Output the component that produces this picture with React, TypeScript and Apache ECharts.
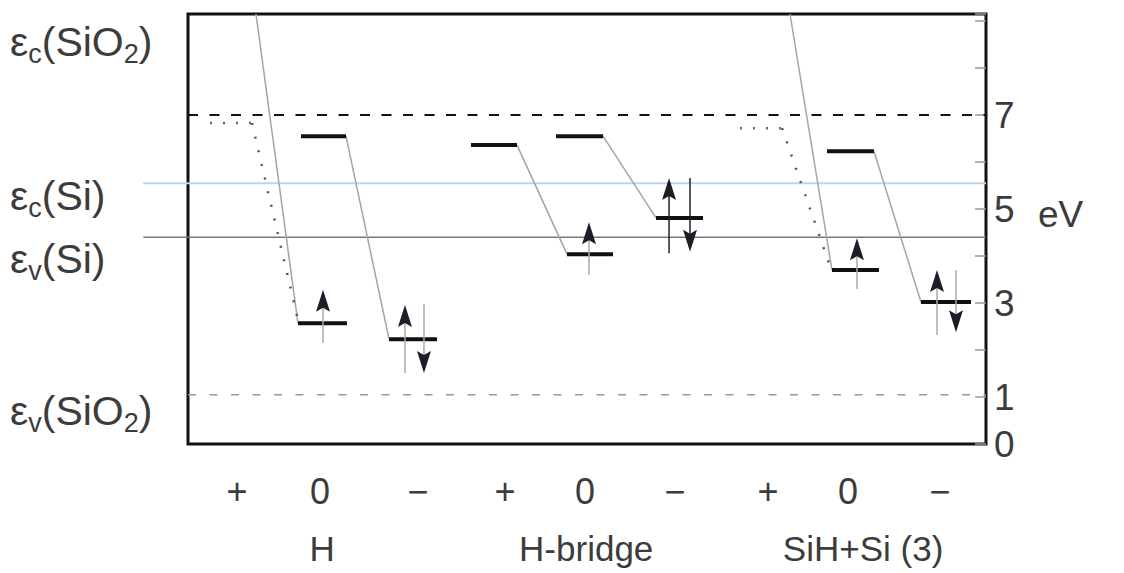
import React, { useEffect, useRef } from "react";
import * as echarts from "echarts";

// ---- data ----
const chargeLabels = ["+", "0", "\u2212", "+", "0", "\u2212", "+", "0", "\u2212"];
const chargePos = [6.14, 16.54, 28.82, 39.72, 49.75, 61.03, 72.68, 82.71, 94.24];
const groupLabels = ["H", "H-bridge", "SiH+Si (3)"];
const groupPos = [16.8, 49.9, 84.6];
const yTickLabels = [0, 1, 3, 5, 7];
const yMax = 9.15;

// defect levels: [xStart, xEnd, energy (eV)]
const levels = [
  [14.16, 19.8, 6.55],
  [35.46, 41.23, 6.36],
  [46.12, 52.01, 6.55],
  [80.08, 85.96, 6.23],
  [13.78, 19.92, 2.57],
  [25.19, 31.2, 2.23],
  [47.49, 53.26, 4.04],
  [58.65, 64.54, 4.81],
  [80.7, 86.59, 3.7],
  [91.85, 98.12, 3.02],
];
const dottedLevels = [
  [2.76, 8.02, 6.83],
  [69.17, 74.44, 6.72],
];
// relaxation connectors: [x1, e1, x2, e2]
const connectors = [
  [8.52, 9.15, 13.78, 2.57],
  [19.8, 6.55, 25.19, 2.23],
  [41.23, 6.36, 47.49, 4.04],
  [52.01, 6.55, 58.65, 4.81],
  [75.44, 9.15, 80.7, 3.7],
  [85.96, 6.23, 91.85, 3.02],
];
const dottedConnectors = [
  [8.02, 6.83, 13.78, 2.64],
  [74.44, 6.72, 80.58, 3.72],
];
// electron spins: [x, tail, tip]
const arrowsLight = [
  [16.92, 2.15, 3.28],
  [27.19, 1.51, 2.96],
  [29.57, 2.98, 1.51],
  [50.25, 3.6, 4.72],
  [83.83, 3.3, 4.38],
  [93.86, 2.32, 3.7],
  [96.24, 3.7, 2.38],
];
const arrowsDark = [
  [60.28, 4.06, 5.66],
  [62.91, 5.66, 4.09],
];
// band edges
const ecSiO2 = [[0, 100, 7.0]];
const ecSi = [[-5.6, 100, 5.55]];
const evSi = [[-5.6, 100, 4.4]];
const evSiO2 = [[0, 100, 1.05]];
const leftLabels = [
  "{n|\u03b5}{s|c}{n|(SiO}{s|2}{n|)}",
  "{n|\u03b5}{s|c}{n|(Si)}",
  "{n|\u03b5}{s|v}{n|(Si)}",
  "{n|\u03b5}{s|v}{n|(SiO}{s|2}{n|)}",
];
const leftLabelY = [42, 196, 259, 411];

const FONT = "Liberation Sans, Arial, sans-serif";
const TXT = "#3c3c3c";

function segSeries(data: number[][], style: any, z = 3) {
  return {
    type: "custom",
    z,
    clip: false,
    silent: true,
    data,
    renderItem: (_p: any, api: any) => {
      const a = api.coord([api.value(0), api.value(2)]);
      const b = api.coord([api.value(1), api.value(2)]);
      return { type: "line", shape: { x1: a[0], y1: a[1], x2: b[0], y2: b[1] }, style };
    },
  };
}

function connSeries(data: number[][], style: any, z = 2) {
  return {
    type: "custom",
    z,
    clip: false,
    silent: true,
    data,
    renderItem: (_p: any, api: any) => {
      const a = api.coord([api.value(0), api.value(1)]);
      const b = api.coord([api.value(2), api.value(3)]);
      return { type: "line", shape: { x1: a[0], y1: a[1], x2: b[0], y2: b[1] }, style };
    },
  };
}

function arrowSeries(data: number[][], lineColor: string) {
  return {
    type: "custom",
    z: 5,
    clip: false,
    silent: true,
    data,
    renderItem: (_p: any, api: any) => {
      const x = api.value(0);
      const tail = api.coord([x, api.value(1)]);
      const tip = api.coord([x, api.value(2)]);
      const dir = tip[1] < tail[1] ? 1 : -1;
      const L = 22;
      const W = 7;
      const hx = tip[0];
      const hy = tip[1];
      return {
        type: "group",
        children: [
          {
            type: "line",
            shape: { x1: tail[0], y1: tail[1], x2: hx, y2: hy + dir * (L - 4) },
            style: { stroke: lineColor, lineWidth: 1.5 },
          },
          {
            type: "polygon",
            shape: {
              points: [
                [hx, hy],
                [hx - W, hy + dir * L],
                [hx, hy + dir * (L - 4)],
                [hx + W, hy + dir * L],
              ],
            },
            style: { fill: "#1d1d2a" },
          },
        ],
      };
    },
  };
}

export default function App() {
  const ref = useRef<HTMLDivElement>(null);
  useEffect(() => {
    const chart = echarts.init(ref.current!, null, { renderer: "svg" });
    const nearest = (arr: number[], v: number) => {
      let bi = 0;
      arr.forEach((a, i) => {
        if (Math.abs(a - v) < Math.abs(arr[bi] - v)) bi = i;
      });
      return bi;
    };
    chart.setOption({
      animation: false,
      backgroundColor: "#fff",
      grid: {
        left: 188,
        right: 138,
        top: 14,
        bottom: 129,
        show: true,
        borderColor: "#111",
        borderWidth: 3,
        backgroundColor: "transparent",
      },
      xAxis: [
        {
          type: "value",
          min: 0,
          max: 100,
          position: "bottom",
          axisLine: { show: false, onZero: false },
          axisTick: { show: false },
          splitLine: { show: false },
          axisLabel: {
            customValues: chargePos,
            margin: 28,
            fontSize: 36,
            lineHeight: 38,
            color: TXT,
            fontFamily: FONT,
            formatter: (v: number) => chargeLabels[nearest(chargePos, v)],
          },
        },
        {
          type: "value",
          min: 0,
          max: 100,
          position: "bottom",
          axisLine: { show: false, onZero: false },
          axisTick: { show: false },
          splitLine: { show: false },
          axisLabel: {
            customValues: groupPos,
            margin: 85,
            fontSize: 35,
            lineHeight: 38,
            color: TXT,
            fontFamily: FONT,
            formatter: (v: number) => groupLabels[nearest(groupPos, v)],
          },
        },
      ],
      yAxis: {
        type: "value",
        position: "right",
        min: 0,
        max: yMax,
        interval: 1,
        axisLine: { show: false, onZero: false },
        splitLine: { show: false },
        axisTick: { show: true, inside: false, length: -11, lineStyle: { color: "#999", width: 1.5 } },
        axisLabel: {
          customValues: yTickLabels,
          margin: 8,
          fontSize: 37,
          color: TXT,
          fontFamily: FONT,
        },
      },
      graphic: [
        ...leftLabels.map((t, i) => ({
          type: "text",
          x: 10,
          y: leftLabelY[i],
          silent: true,
          style: {
            text: t,
            verticalAlign: "middle",
            align: "left",
            rich: {
              n: { fontSize: 41, lineHeight: 50, fontFamily: FONT, fill: TXT },
              s: { fontSize: 27, lineHeight: 27, fontFamily: FONT, fill: TXT, verticalAlign: "bottom" },
            },
          },
        })),
        {
          type: "text",
          x: 1038,
          y: 214,
          silent: true,
          style: { text: "eV", fontSize: 37, fontFamily: FONT, fill: TXT, verticalAlign: "middle" },
        },
      ],
      series: [
        segSeries(ecSi, { stroke: "#bcd3ea", lineWidth: 2 }, 1),
        segSeries(evSi, { stroke: "#777", lineWidth: 1.5 }, 1),
        segSeries(ecSiO2, { stroke: "#111", lineWidth: 2, lineDash: [10, 11.5] }, 1),
        segSeries(evSiO2, { stroke: "#999", lineWidth: 1.5, lineDash: [8, 13.5] }, 1),
        connSeries(connectors, { stroke: "#a5a5a5", lineWidth: 1.5 }),
        connSeries(dottedConnectors, { stroke: "#555", lineWidth: 2.5, lineDash: [2, 12] }),
        segSeries(dottedLevels, { stroke: "#666", lineWidth: 2.5, lineDash: [2, 11] }, 3),
        segSeries(levels, { stroke: "#111", lineWidth: 4 }, 4),
        arrowSeries(arrowsLight, "#aaa"),
        arrowSeries(arrowsDark, "#222"),
      ],
    });
    return () => chart.dispose();
  }, []);
  return (
    <div
      ref={ref}
      style={{ position: "fixed", left: 0, top: 0, width: 1124, height: 573 }}
    />
  );
}
